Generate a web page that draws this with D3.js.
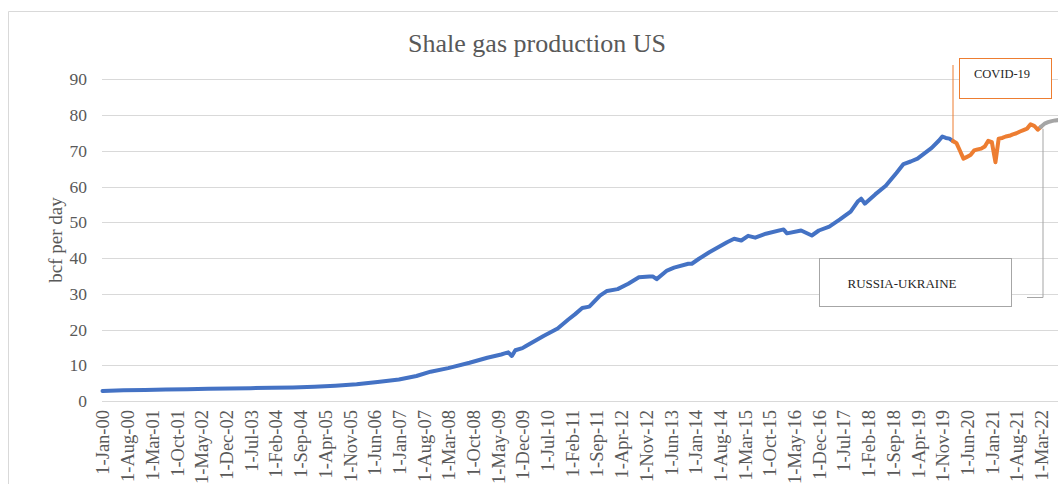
<!DOCTYPE html>
<html>
<head>
<meta charset="utf-8">
<script src="https://cdn.jsdelivr.net/npm/d3@7"></script>
<style>
  html, body { margin: 0; padding: 0; background: #fff; }
  svg { display: block; }
</style>
</head>
<body>
<svg id="chart" width="1058" height="484"></svg>
<script>
// ---- data ----
const title = "Shale gas production US";
const yLabel = "bcf per day";
const yTicks = [0, 10, 20, 30, 40, 50, 60, 70, 80, 90];
const xTickLabels = ["1-Jan-00","1-Aug-00","1-Mar-01","1-Oct-01","1-May-02","1-Dec-02","1-Jul-03","1-Feb-04","1-Sep-04","1-Apr-05","1-Nov-05","1-Jun-06","1-Jan-07","1-Aug-07","1-Mar-08","1-Oct-08","1-May-09","1-Dec-09","1-Jul-10","1-Feb-11","1-Sep-11","1-Apr-12","1-Nov-12","1-Jun-13","1-Jan-14","1-Aug-14","1-Mar-15","1-Oct-15","1-May-16","1-Dec-16","1-Jul-17","1-Feb-18","1-Sep-18","1-Apr-19","1-Nov-19","1-Jun-20","1-Jan-21","1-Aug-21","1-Mar-22"];

const blueDates = ["2000-01","2000-07","2001-01","2001-07","2002-01","2002-07","2003-01","2003-07","2004-01","2004-07","2005-01","2005-07","2006-01","2006-07","2007-01","2007-06","2007-10","2008-03","2008-09","2009-02","2009-06","2009-07","2009-08","2009-09","2009-10","2009-12","2010-01","2010-06","2010-10","2011-01","2011-03","2011-05","2011-07","2011-10","2011-12","2012-03","2012-06","2012-09","2012-12","2013-01","2013-02","2013-05","2013-07","2013-11","2013-12","2014-02","2014-05","2014-10","2014-12","2015-02","2015-04","2015-06","2015-09","2016-02","2016-03","2016-07","2016-10","2016-12","2017-03","2017-06","2017-09","2017-11","2017-12","2018-01","2018-04","2018-07","2018-10","2018-12","2019-02","2019-04","2019-08","2019-10","2019-11","2019-12","2020-01","2020-02"];
const blueValues = [2.8,3.0,3.1,3.2,3.3,3.4,3.5,3.6,3.7,3.8,4.0,4.3,4.7,5.3,6.0,7.0,8.2,9.2,10.7,12.1,13.0,13.3,13.6,12.6,14.2,14.8,15.4,18.2,20.3,22.8,24.3,26.0,26.4,29.5,30.8,31.3,32.8,34.6,34.8,34.8,34.1,36.5,37.3,38.4,38.4,39.8,41.6,44.4,45.4,44.9,46.2,45.7,46.8,48.0,46.9,47.7,46.3,47.7,48.8,50.8,53.0,55.8,56.6,55.2,57.8,60.2,63.8,66.3,67.0,67.8,70.8,72.8,74.0,73.6,73.4,72.7];

const orangeDates = ["2020-02","2020-03","2020-04","2020-05","2020-06","2020-07","2020-08","2020-09","2020-10","2020-11","2020-12","2021-01","2021-02","2021-03","2021-04","2021-05","2021-06","2021-07","2021-08","2021-09","2021-10","2021-11","2021-12","2022-01","2022-02","2022-03"];
const orangeValues = [72.7,72.2,70.0,67.8,68.3,68.8,70.1,70.4,70.6,71.2,72.8,72.4,66.8,73.4,73.6,74.0,74.2,74.6,74.9,75.4,75.8,76.2,77.4,77.0,75.9,76.7];

const grayDates = ["2022-03","2022-04","2022-05","2022-06","2022-07","2022-08"];
const grayValues = [76.7,77.6,78.0,78.3,78.5,78.6];

const covidLabel = "COVID-19";
const warLabel = "RUSSIA-UKRAINE";

// ---- drawing ----
const svg = d3.select("#chart");
const W = 1058, H = 484;
const parseM = d3.timeParse("%Y-%m");
const parseTick = d3.timeParse("%d-%b-%y");

const x = d3.scaleTime()
  .domain([parseM("2000-01"), parseM("2022-03")])
  .range([102.5, 1041]);
const y = d3.scaleLinear().domain([0, 90]).range([401, 79.3]);

const serif = "'Liberation Serif', 'Times New Roman', serif";
const textCol = "#595959";

// outer frame
svg.append("path")
  .attr("d", `M8.5,${H} L8.5,11.5 L${W},11.5`)
  .attr("fill", "none").attr("stroke", "#d9d9d9").attr("stroke-width", 1);

// title
svg.append("text")
  .attr("x", 537).attr("y", 52)
  .attr("text-anchor", "middle")
  .attr("font-family", serif).attr("font-size", 26)
  .attr("fill", textCol)
  .text(title);

// gridlines + y axis
const yAxis = d3.axisLeft(y).tickValues(yTicks).tickSize(0).tickPadding(15);
const gy = svg.append("g").attr("transform", "translate(102,0)").call(yAxis);
gy.select(".domain").remove();
gy.selectAll("text").attr("font-family", serif).attr("font-size", 17.5).attr("fill", textCol);

svg.append("g").selectAll("line").data(yTicks).join("line")
  .attr("x1", 102).attr("x2", W)
  .attr("y1", d => Math.round(y(d)) + 0.5).attr("y2", d => Math.round(y(d)) + 0.5)
  .attr("stroke", "#d9d9d9").attr("stroke-width", 1.2);

// y label
svg.append("text")
  .attr("transform", `translate(55,${240}) rotate(-90)`)
  .attr("text-anchor", "middle").attr("dy", "0.35em")
  .attr("font-family", serif).attr("font-size", 19)
  .attr("fill", textCol)
  .text(yLabel);

// x axis
const xTickDates = xTickLabels.map(parseTick);
const xAxis = d3.axisBottom(x).tickValues(xTickDates).tickSize(0)
  .tickFormat((d, i) => xTickLabels[i]);
const gx = svg.append("g").attr("transform", `translate(0,${y(0)})`).call(xAxis);
gx.select(".domain").remove();
gx.selectAll("text")
  .attr("font-family", serif).attr("font-size", 18.5).attr("fill", textCol)
  .attr("text-anchor", "end")
  .attr("transform", "rotate(-90)")
  .attr("x", -9).attr("y", 0).attr("dy", "0.35em");

// lines
const line = d3.line().x(d => x(d[0])).y(d => y(d[1])).curve(d3.curveLinear);
function series(dates, vals) { return dates.map((d, i) => [parseM(d), vals[i]]); }

svg.append("path").datum(series(blueDates, blueValues))
  .attr("d", line).attr("fill", "none").attr("stroke", "#4472C4")
  .attr("stroke-width", 4).attr("stroke-linejoin", "round").attr("stroke-linecap", "round");
svg.append("path").datum(series(orangeDates, orangeValues))
  .attr("d", line).attr("fill", "none").attr("stroke", "#ED7D31")
  .attr("stroke-width", 4).attr("stroke-linejoin", "round").attr("stroke-linecap", "round");
svg.append("path").datum(series(grayDates, grayValues))
  .attr("d", line).attr("fill", "none").attr("stroke", "#A5A5A5")
  .attr("stroke-width", 4).attr("stroke-linejoin", "round").attr("stroke-linecap", "round");

// COVID annotation
const cx0 = x(parseM(orangeDates[0]));
svg.append("line")
  .attr("x1", cx0).attr("x2", cx0).attr("y1", 65).attr("y2", y(orangeValues[0]))
  .attr("stroke", "#ED7D31").attr("stroke-width", 1);
svg.append("rect")
  .attr("x", 959.5).attr("y", 58.5).attr("width", 92).attr("height", 40)
  .attr("fill", "#fff").attr("stroke", "#ED7D31").attr("stroke-width", 1);
svg.append("text")
  .attr("x", 1002).attr("y", 74).attr("dy", "0.35em")
  .attr("text-anchor", "middle")
  .attr("font-family", serif).attr("font-size", 12.5).attr("fill", "#262626")
  .text(covidLabel);

// Russia-Ukraine annotation
const gx0 = x(parseM(grayDates[0])) + 2;
svg.append("path")
  .attr("d", `M${gx0},${y(grayValues[0]) + 2} L${gx0},297.5 L1027,297.5`)
  .attr("fill", "none").attr("stroke", "#A5A5A5").attr("stroke-width", 1);
svg.append("rect")
  .attr("x", 819.5).attr("y", 258.5).attr("width", 192).attr("height", 48)
  .attr("fill", "#fff").attr("stroke", "#a6a6a6").attr("stroke-width", 1);
svg.append("text")
  .attr("x", 902).attr("y", 283).attr("dy", "0.35em")
  .attr("text-anchor", "middle")
  .attr("font-family", serif).attr("font-size", 13).attr("fill", "#262626")
  .text(warLabel);
</script>
</body>
</html>
